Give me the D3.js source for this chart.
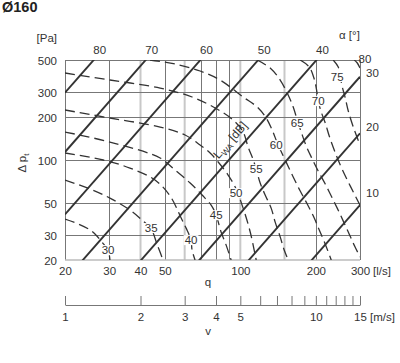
<!DOCTYPE html>
<html><head><meta charset="utf-8">
<script src="https://cdn.jsdelivr.net/npm/d3@7"></script>
<style>
html,body{margin:0;padding:0;background:#fff;}
svg{display:block;font-family:"Liberation Sans",Arial,Helvetica,sans-serif;}
</style></head><body>
<svg id="c" width="400" height="363"></svg>
<script>
// ---------- data ----------
const title = "Ø160";
const qTicks = [20, 30, 40, 50, 100, 200, 300];
const pTicks = [20, 30, 50, 100, 200, 300, 500];
const qGridDark = [20, 30, 50, 70, 80, 90, 200, 300];
const qGridLight = [40, 60, 100, 150];
const pGrid = [30, 50, 100, 200, 300, 500];
const vTicks = [1, 2, 3, 4, 5, 6, 7, 8, 9, 10, 11, 12, 13, 14, 15];
const vLabels = [1, 2, 3, 4, 5, 10, 15];
// damper blade angle lines (Δp ∝ q²): flow [l/s] at which Δp = 100 Pa
const damperAngles = [80, 70, 60, 50, 40, 30, 20, 10];
const damperQ100 = [11.64, 18.76, 31, 52.7, 90, 153.5, 242, 431];
// sound power level contours L_WA [dB]: [q l/s, Δp Pa]
const soundLevels = [30, 35, 40, 45, 50, 55, 60, 65, 70, 75, 80];
const lw30 = [[20,38.6],[22.7,35.6],[25.2,32.4],[26.8,29.4],[28.4,26.0],[29.7,23.5],[30.2,20]];
const lw35 = [[20,72.4],[25.2,62.7],[30.2,54.2],[36.3,44.7],[40.6,38.0],[44.1,32.9],[46.7,25.4],[49.2,20]];
const lw40 = [[20,111.9],[28.4,100],[36.3,87.8],[45.7,72.4],[52.5,56],[58.1,39.3],[60.8,33.4],[63.6,27.6],[64.2,23.5],[66,20]];
const lw45 = [[20,156.9],[30.2,133.5],[47.9,103.2],[54.9,85.1],[63.1,69],[70.4,56.9],[76.5,48.4],[80.1,41.2],[83.8,31.4],[87.8,25.4],[91.9,20]];
const lw50 = [[20,223.6],[30.2,196.6],[47.9,170],[60.2,149.5],[69.1,127.3],[75.8,111.9],[81.6,96.8],[89.4,78.5],[95.4,64.7],[102.6,46.1],[109.5,31.4],[114.6,21.7],[115.7,20]];
const lw55 = [[20,405.5],[30.2,362.3],[47.9,318.5],[64.2,275.6],[79.4,230.9],[93.6,190.3],[102.6,156.9],[107.4,123.3],[111.5,104.9],[115.7,86.4],[120,69],[125.6,56.9],[132.7,46.1],[137.7,36.8],[144.2,29],[149.6,23.5],[155.2,20]];
const lw60 = [[43.66,500],[54.94,468.8],[69.13,418.8],[83.08,362.3],[102.6,275.6],[116.7,234.6],[126.8,196.6],[133.9,162],[141.5,127.3],[151,100],[162.5,76],[173.3,60.7],[184.8,49.2],[197.1,39.3],[206.4,32.4],[218.1,25.8],[230.4,20]];
const lw65 = [[116.7,500],[131.5,439.5],[144.2,362.3],[153.8,293.9],[162.5,234.6],[168.6,190.3],[174.9,156.9],[183.1,125.3],[193.5,101.6],[204.4,83.7],[218.1,67.9],[230.4,56],[243.4,46.1],[257.3,37.4],[269.4,31.4],[282.1,26.2],[300,21]];
const lw70 = [[173.3,500],[188.3,446.7],[197.1,368.2],[201.7,303.6],[204.4,258.4],[210.2,216.5],[218.1,181.4],[226.2,147.1],[236.8,117.4],[250.3,92.2],[267,72.4],[282.1,59.7],[300,48.4]];
const lw75 = [[234.6,500],[245.7,446.7],[250.3,380.3],[255,323.7],[262.1,271.2],[269.4,220],[282.1,170],[300,127.3]];
const lw80 = [[284.7,500],[292.6,476.4],[300,439.5]];
// where each L_WA value is written [q, Δp]
const soundLabelAt = [[29.7,23.5],[44.1,33.5],[63.6,27.6],[80.1,41.2],[96.2,58.8],[115.7,86.4],[139,127.3],[168.6,181.4],[204.4,258.4],[243.4,380.3],[314,508]];
const lwaTitleAt = [91, 138];

// ---------- drawing ----------
const soundCurves = [lw30, lw35, lw40, lw45, lw50, lw55, lw60, lw65, lw70, lw75, lw80];
const svg = d3.select("#c");
const INK = "#333";
const x = d3.scaleLog().domain([20, 300]).range([65, 360]);
const y = d3.scaleLog().domain([20, 500]).range([260, 60]);
const xv = d3.scaleLog().domain([1, 15]).range([65, 360]);
const [X0, X1] = x.range(), [Y0, Y1] = [y(500), y(20)];

svg.append("defs").append("clipPath").attr("id", "plot")
  .append("rect").attr("x", X0).attr("y", Y0).attr("width", X1 - X0).attr("height", Y1 - Y0);

svg.append("text").attr("x", 2).attr("y", 12).attr("font-size", 14.5).attr("font-weight", "bold")
  .attr("fill", "#222").text(title);

// grid
const grid = svg.append("g");
grid.selectAll(".vl").data(qGridLight).join("line")
  .attr("x1", d => x(d)).attr("x2", d => x(d)).attr("y1", Y0).attr("y2", Y1)
  .attr("stroke", "#c8c8c8").attr("stroke-width", 2);
grid.selectAll(".vd").data(qGridDark).join("line")
  .attr("x1", d => Math.round(x(d)) + 0.5).attr("x2", d => Math.round(x(d)) + 0.5).attr("y1", Y0).attr("y2", Y1)
  .attr("stroke", "#777").attr("stroke-width", 1);
grid.selectAll(".h").data(pGrid).join("line")
  .attr("y1", d => Math.round(y(d)) + 0.5).attr("y2", d => Math.round(y(d)) + 0.5).attr("x1", X0).attr("x2", X1)
  .attr("stroke", "#777").attr("stroke-width", 1);
grid.append("line").attr("x1", X0).attr("x2", X1).attr("y1", y(20)).attr("y2", y(20))
  .attr("stroke", "#bbb").attr("stroke-width", 1.6);

// sound contours
const line = d3.line().x(d => x(d[0])).y(d => y(d[1])).curve(d3.curveCatmullRom.alpha(0.5));
svg.append("g").attr("clip-path", "url(#plot)").selectAll("path").data(soundCurves).join("path")
  .attr("d", line).attr("fill", "none").attr("stroke", INK).attr("stroke-width", 1.3)
  .attr("stroke-dasharray", "10,5");

// damper lines
const dl = svg.append("g").attr("clip-path", "url(#plot)");
damperQ100.forEach(q100 => {
  const pts = [20, 300].map(q => [q, 100 * (q / q100) ** 2]);
  dl.append("path").attr("d", d3.line().x(d => x(d[0])).y(d => y(d[1]))(pts))
    .attr("fill", "none").attr("stroke", INK).attr("stroke-width", 1.9);
});
const rightDy = [0, 0, 0, 0, 0, -4, -6.5, -12.5];
damperQ100.forEach((q100, i) => {
  const qTop = q100 * Math.sqrt(500 / 100);
  const t = svg.append("text").attr("font-size", 11.5).attr("fill", INK).text(damperAngles[i]);
  if (qTop <= 300) {
    t.attr("x", x(qTop) + 6).attr("y", 54).attr("text-anchor", "middle");
  } else {
    const pR = 100 * (300 / q100) ** 2;
    t.attr("x", 372.5).attr("y", y(pR) + rightDy[i] + 4).attr("text-anchor", "middle");
  }
});

// sound level labels with white boxes
soundLevels.forEach((lv, i) => {
  const [q, p] = soundLabelAt[i];
  const g = svg.append("g");
  const t = g.append("text").attr("x", x(q)).attr("y", y(p)).attr("dy", "0.36em")
    .attr("text-anchor", "middle").attr("font-size", 11.5).attr("fill", INK).text(lv);
  if (lv !== 80) {
    const b = t.node().getBBox();
    g.insert("rect", "text").attr("x", b.x - 1).attr("y", b.y + 1).attr("width", b.width + 2)
      .attr("height", b.height - 2).attr("fill", "#fff");
  }
});

// L_WA title along damper direction
const ang = Math.atan((y(20) - y(80)) / (x(40) - x(20))) * 180 / Math.PI;
const lt = svg.append("text").attr("transform", `translate(${x(lwaTitleAt[0])},${y(lwaTitleAt[1])}) rotate(${-ang})`)
  .attr("text-anchor", "middle").attr("dy", "0.35em").attr("font-size", 12).attr("fill", INK);
lt.append("tspan").text("L");
lt.append("tspan").attr("font-size", 8.5).attr("dy", 3).text("WA");
lt.append("tspan").attr("dy", -3).text(" [dB]");

// axes
const ax = svg.append("g").attr("transform", `translate(0,${Y1})`)
  .call(d3.axisBottom(x).tickValues(qTicks).tickFormat(d3.format("d")).tickSize(0).tickPadding(7));
ax.select(".domain").remove();
ax.selectAll("text").attr("font-size", 11.5).attr("fill", INK).attr("font-family", null);
svg.append("text").attr("x", 373).attr("y", 275).attr("font-size", 11.5).attr("fill", INK).text("[l/s]");
svg.append("text").attr("x", 208).attr("y", 285.5).attr("text-anchor", "middle").attr("font-size", 11.5).attr("fill", INK).text("q");

const ay = svg.append("g").attr("transform", `translate(${X0},1)`)
  .call(d3.axisLeft(y).tickValues(pTicks).tickFormat(d3.format("d")).tickSize(0).tickPadding(8));
ay.select(".domain").remove();
ay.selectAll("text").attr("font-size", 11.5).attr("fill", INK).attr("font-family", null);
svg.append("text").attr("x", 57).attr("y", 42).attr("text-anchor", "end").attr("font-size", 11.5).attr("fill", INK).text("[Pa]");
const dp = svg.append("text").attr("transform", "translate(26,163) rotate(-90)").attr("text-anchor", "middle")
  .attr("font-size", 11.5).attr("fill", INK);
dp.append("tspan").text("Δ p");
dp.append("tspan").attr("font-size", 8).attr("dy", 3).text("t");
svg.append("text").attr("x", 339).attr("y", 39).attr("font-size", 11.5).attr("fill", INK).text("α [°]");

// velocity axis
const av = svg.append("g").attr("transform", "translate(0,305)")
  .call(d3.axisBottom(xv).tickValues(vTicks).tickSize(-9).tickSizeOuter(0).tickPadding(8)
    .tickFormat(d => vLabels.includes(d) ? d : ""));
av.selectAll("line,path").attr("stroke", "#777");
av.selectAll("text").attr("font-size", 11.5).attr("fill", INK).attr("font-family", null);
svg.append("text").attr("x", 370).attr("y", 321).attr("font-size", 11.5).attr("fill", INK).text("[m/s]");
svg.append("text").attr("x", 208).attr("y", 335).attr("text-anchor", "middle").attr("font-size", 11.5).attr("fill", INK).text("v");
</script>
</body></html>
